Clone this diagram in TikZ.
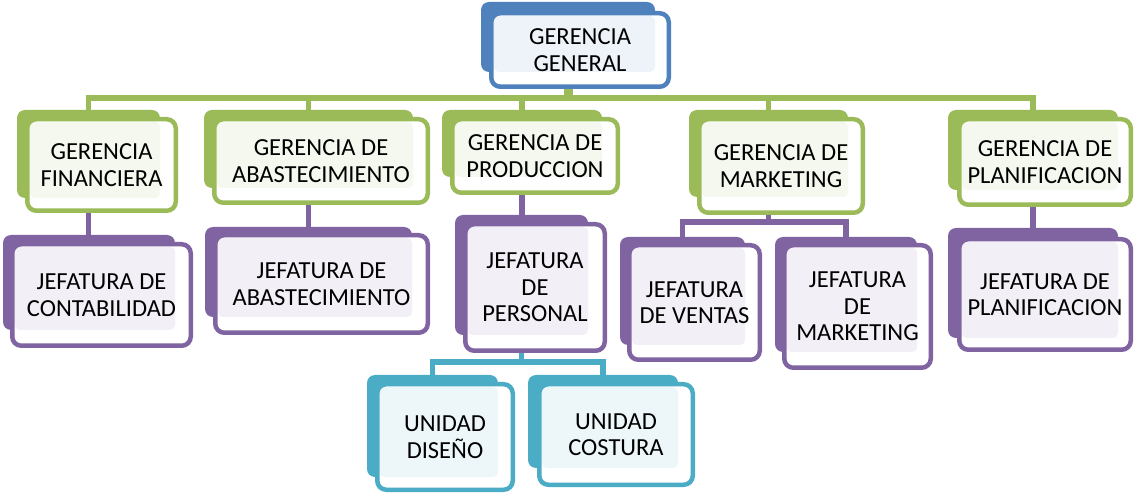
\documentclass[tikz,border=0pt]{standalone}
\usepackage{fontspec}
\setmainfont{Carlito}
\usetikzlibrary{backgrounds}
\definecolor{azul}{HTML}{4F81BD}
\definecolor{verde}{HTML}{9BBB59}
\definecolor{morado}{HTML}{8064A2}
\definecolor{celeste}{HTML}{4BACC6}
\tikzset{every picture/.style={line width=0.75pt}}
\tikzset{
  fondo/.style={fill=#1, rounded corners=8, inner sep=0, outer sep=0},
  caja/.style 2 args={draw=#1, fill=white, line width=4.5, rounded corners=9,
    inner sep=0, outer sep=0, align=center, font=\fontsize{24.5}{26.5}\selectfont,
    path picture={\fill[#1!10, rounded corners=5]
      ([xshift=2.5pt,yshift=-2.5pt]path picture bounding box.north west) rectangle (#2.south east);}},
  enlace/.style={draw=#1, line width=5.5}
}

\begin{document}
\begin{tikzpicture}[x=1pt,y=1pt,yscale=-1]
\useasboundingbox (0,0) rectangle (1136,494);

%Gerencia general
\node[fondo=azul, minimum width=174, minimum height=70] (genB) at (568,37) {};
\node[caja={azul}{genB}, minimum width=177.5, minimum height=73.5] (gen) at (580,50) {GERENCIA\\GENERAL};

%Gerencias
\node[fondo=verde, minimum width=143, minimum height=88] (finB) at (88.5,154) {};
\node[caja={verde}{finB}, minimum width=148.5, minimum height=91.5] (fin) at (101.5,165) {GERENCIA\\FINANCIERA};
\node[fondo=verde, minimum width=209, minimum height=78] (gabaB) at (308.5,149) {};
\node[caja={verde}{gabaB}, minimum width=213.5, minimum height=83.5] (gaba) at (321,161) {GERENCIA DE\\ABASTECIMIENTO};
\node[fondo=verde, minimum width=160, minimum height=67] (prodB) at (522,143.5) {};
\node[caja={verde}{prodB}, minimum width=165.5, minimum height=73.5] (prod) at (535,156) {GERENCIA DE\\PRODUCCION};
\node[fondo=verde, minimum width=159, minimum height=87] (gmktB) at (768.5,153.5) {};
\node[caja={verde}{gmktB}, minimum width=163.5, minimum height=93.5] (gmkt) at (781,166) {GERENCIA DE\\MARKETING};
\node[fondo=verde, minimum width=170, minimum height=80] (gplanB) at (1033,150) {};
\node[caja={verde}{gplanB}, minimum width=171.5, minimum height=85.5] (gplan) at (1045,162) {GERENCIA DE\\PLANIFICACION};

%Jefaturas
\node[fondo=morado, minimum width=172, minimum height=95] (contB) at (89,282.5) {};
\node[caja={morado}{contB}, minimum width=178.5, minimum height=101.5] (cont) at (101.5,295) {JEFATURA DE\\CONTABILIDAD};
\node[fondo=morado, minimum width=207, minimum height=90] (jabaB) at (308.5,272) {};
\node[caja={morado}{jabaB}, minimum width=212.5, minimum height=97.5] (jaba) at (321.5,284) {JEFATURA DE\\ABASTECIMIENTO};
\node[fondo=morado, minimum width=133, minimum height=120] (persB) at (521.5,275) {};
\node[caja={morado}{persB}, minimum width=139.5, minimum height=126.5] (pers) at (535,287.5) {JEFATURA\\DE\\PERSONAL};
\node[fondo=morado, minimum width=125, minimum height=108] (ventB) at (682.5,291) {};
\node[caja={morado}{ventB}, minimum width=130.5, minimum height=114.5] (vent) at (694.5,302.5) {JEFATURA\\DE VENTAS};
\node[fondo=morado, minimum width=142, minimum height=115] (jmktB) at (846,294.5) {};
\node[caja={morado}{jmktB}, minimum width=146.5, minimum height=122.5] (jmkt) at (857.5,306.5) {JEFATURA\\DE\\MARKETING};
\node[fondo=morado, minimum width=170, minimum height=110] (jplanB) at (1033,283) {};
\node[caja={morado}{jplanB}, minimum width=171.5, minimum height=110.5] (jplan) at (1045,294.5) {JEFATURA DE\\PLANIFICACION};

%Unidades
\node[fondo=celeste, minimum width=131, minimum height=102] (disB) at (432.5,426) {};
\node[caja={celeste}{disB}, minimum width=135.5, minimum height=105.5] (dis) at (445,437) {UNIDAD\\DISEÑO};
\node[fondo=celeste, minimum width=150, minimum height=93] (cosB) at (603,421.5) {};
\node[caja={celeste}{cosB}, minimum width=153.5, minimum height=100.5] (cos) at (616,434.5) {UNIDAD\\COSTURA};

%Enlaces
\coordinate (bus1) at (0,98);
\coordinate (bus2) at (0,222);
\coordinate (bus3) at (0,362);
\begin{scope}[on background layer]
\draw[enlace=verde, line width=9] (genB.center) -- (genB.center |- bus1);
\draw[enlace=verde] (genB.center) |- (finB.center |- bus1) -- (finB.center);
\draw[enlace=verde] (genB.center) |- (gabaB.center |- bus1) -- (gabaB.center);
\draw[enlace=verde] (genB.center) |- (prodB.center |- bus1) -- (prodB.center);
\draw[enlace=verde] (genB.center) |- (gmktB.center |- bus1) -- (gmktB.center);
\draw[enlace=verde] (genB.center) |- (gplanB.center |- bus1) -- (gplanB.center);
\draw[enlace=morado] (finB.center) -- (finB.center |- contB.center);
\draw[enlace=morado] (gabaB.center) -- (jabaB.center);
\draw[enlace=morado] (prodB.center) -- (prodB.center |- persB.center);
\draw[enlace=morado] (gplanB.center) -- (jplanB.center);
\draw[enlace=morado] (gmktB.center) |- (ventB.center |- bus2) -- (ventB.center);
\draw[enlace=morado] (gmktB.center) |- (jmktB.center |- bus2) -- (jmktB.center);
\draw[enlace=celeste] (persB.center) |- (disB.center |- bus3) -- (disB.center);
\draw[enlace=celeste] (persB.center) |- (cosB.center |- bus3) -- (cosB.center);
\end{scope}

\end{tikzpicture}
\end{document}
